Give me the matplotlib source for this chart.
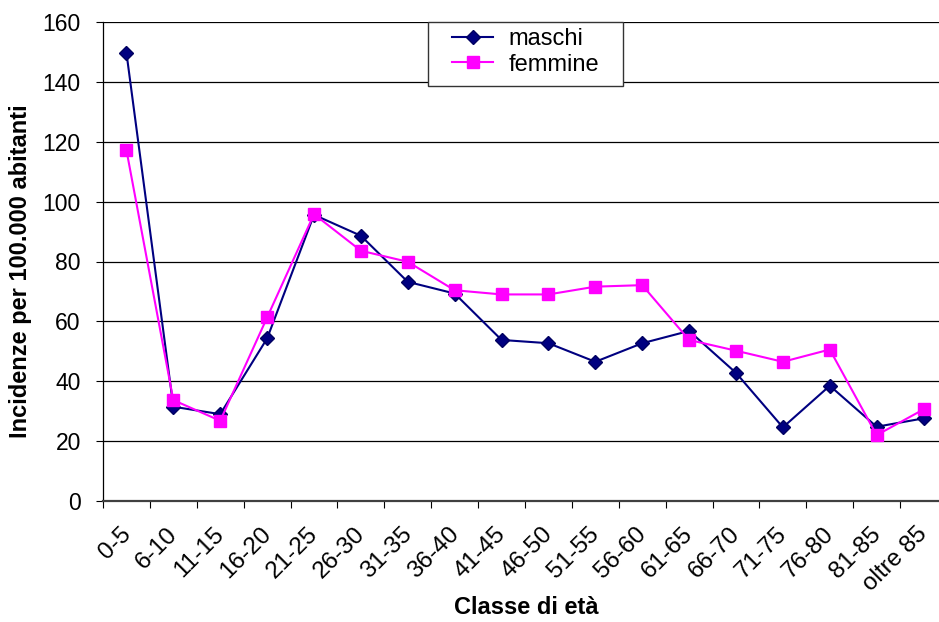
import matplotlib
matplotlib.use("Agg")
import matplotlib.pyplot as plt
from matplotlib.patches import Rectangle
from matplotlib.transforms import ScaledTranslation

plt.rcParams['font.family'] = ['Liberation Sans', 'DejaVu Sans']

classi = ["0-5", "6-10", "11-15", "16-20", "21-25", "26-30", "31-35", "36-40",
          "41-45", "46-50", "51-55", "56-60", "61-65", "66-70", "71-75", "76-80",
          "81-85", "oltre 85"]
maschi = [149.7, 31.5, 29.0, 54.3, 95.6, 88.6, 73.2, 69.3, 53.8, 52.7,
          46.5, 52.7, 56.8, 42.8, 24.6, 38.5, 24.8, 27.6]
femmine = [117.2, 33.7, 26.8, 61.3, 95.8, 83.6, 79.9, 70.4, 69.0, 69.0,
           71.6, 72.1, 53.8, 50.2, 46.5, 50.6, 22.0, 30.6]
yticks = [0, 20, 40, 60, 80, 100, 120, 140, 160]

fig = plt.figure(figsize=(9.39, 6.22), dpi=100)
ax = fig.add_axes([103/939, 121/622, 844/939, 479/622])

x = list(range(len(classi)))
ax.plot(x, maschi, color="#000080", lw=1.5, marker="D", ms=7.5,
        markeredgecolor="#000060", markerfacecolor="#000080", label="maschi", zorder=3)
ax.plot(x, femmine, color="#FF00FF", lw=1.5, marker="s", ms=9,
        markeredgecolor="#FF00FF", markerfacecolor="#FF00FF", label="femmine", zorder=3)

ax.set_xlim(-0.5, len(classi) - 0.5)
ax.set_ylim(0, 160)
ax.set_yticks(yticks)
ax.tick_params(axis="y", labelsize=16.5, length=5, width=0.8, pad=11)
for yv in yticks[1:]:
    ax.axhline(yv, color="black", lw=0.9, zorder=1)

ax.set_xticks(x)
ax.set_xticklabels(classi, rotation=45, ha="right", va="top", rotation_mode="anchor")
ax.set_xticks([i - 0.5 for i in range(len(classi) + 1)], minor=True)
ax.tick_params(axis="x", which="major", length=0, labelsize=17.5, pad=16)
ax.tick_params(axis="x", which="minor", length=5, width=0.8)
off = ScaledTranslation(-7/100, 0, fig.dpi_scale_trans)
for lab in ax.get_xticklabels():
    lab.set_transform(lab.get_transform() + off)

for s in ["top", "right"]:
    ax.spines[s].set_visible(False)
ax.spines["left"].set_linewidth(0.9)
ax.spines["bottom"].set_linewidth(1.6)
ax.spines["bottom"].set_color("#404040")

ax.set_ylabel("Incidenze per 100.000 abitanti", fontsize=17, fontweight="bold",
              va="center", ha="center")
ax.yaxis.set_label_coords(-82/844, 229.5/479)
ax.set_xlabel("Classe di età", fontsize=17, fontweight="bold", va="center", ha="center")
ax.xaxis.set_label_coords(0.502, -106/479)

box = Rectangle((325/844, 415/479), 195/844, 64/479, transform=ax.transAxes,
                facecolor="white", edgecolor="#333333", lw=1.0, zorder=4, clip_on=False)
ax.add_patch(box)
leg = ax.legend(loc="upper left", bbox_to_anchor=(349/844, 473/479), frameon=False,
                fontsize=17, borderpad=0, borderaxespad=0, handlelength=1.74,
                handletextpad=0.64, labelspacing=0.15)
leg.set_zorder(5)

fig.savefig("out.png", dpi=100)
